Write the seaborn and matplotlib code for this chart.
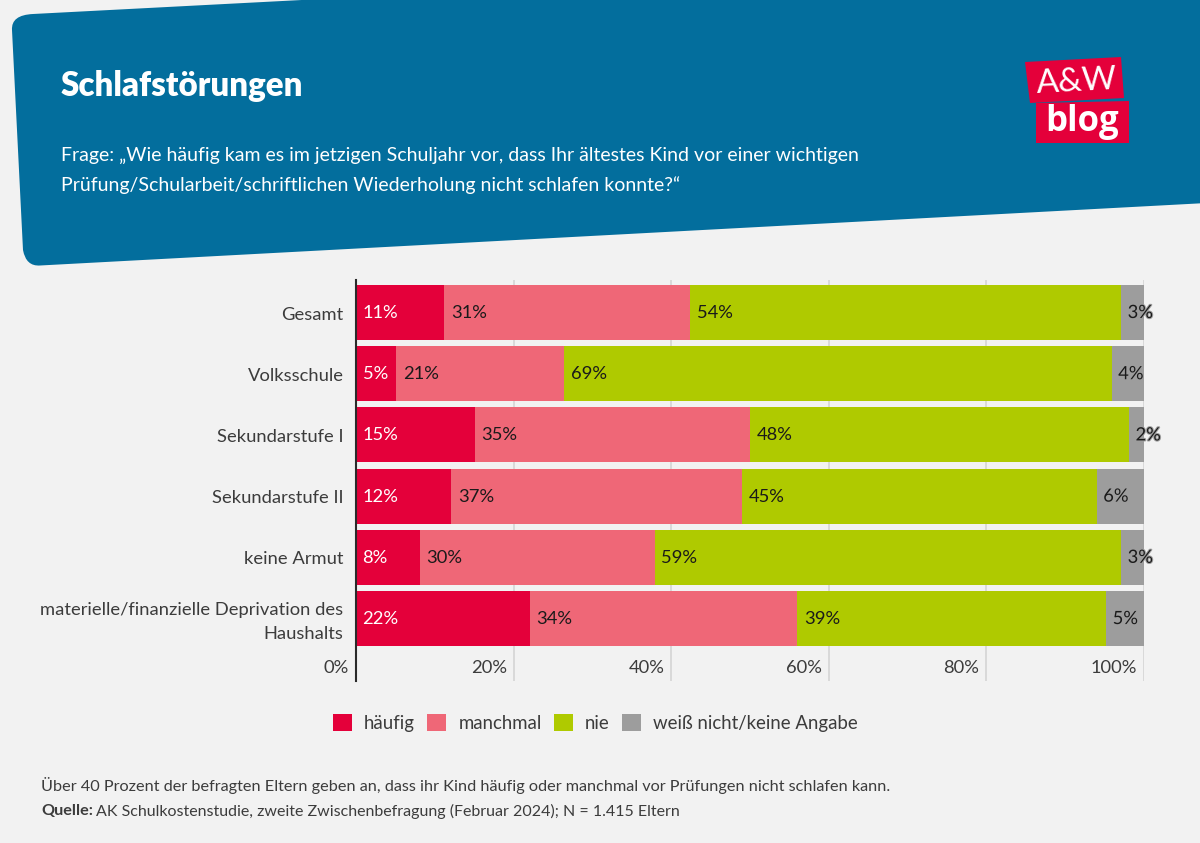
import matplotlib
matplotlib.use('Agg')
import matplotlib.pyplot as plt
import matplotlib.patheffects as pe
from matplotlib.patches import PathPatch, Polygon, Patch
from matplotlib.path import Path
from matplotlib.transforms import ScaledTranslation
import numpy as np
import seaborn as sns

categories = ['Gesamt', 'Volksschule', 'Sekundarstufe I', 'Sekundarstufe II', 'keine Armut',
              'materielle/finanzielle Deprivation des\nHaushalts']
haeufig = [11.2, 5.1, 15.1, 12.1, 8.1, 22.1]
manchmal = [31.2, 21.3, 34.9, 36.9, 29.8, 33.9]
nie = [54.7, 69.5, 48.1, 45.0, 59.2, 39.2]
keine_angabe = [2.9, 4.1, 1.9, 6.0, 2.9, 4.8]
haeufig_labels = ['11%', '5%', '15%', '12%', '8%', '22%']
manchmal_labels = ['31%', '21%', '35%', '37%', '30%', '34%']
nie_labels = ['54%', '69%', '48%', '45%', '59%', '39%']
keine_angabe_labels = ['3%', '4%', '2%', '6%', '3%', '5%']
series_names = ['häufig', 'manchmal', 'nie', 'weiß nicht/keine Angabe']
colors = ['#e4003a', '#ef6777', '#afca00', '#9d9d9d']
x_ticks = [0, 20, 40, 60, 80, 100]

BG = '#f2f2f2'
BLUE = '#036e9d'
TEXT = '#3c3c3c'
BODY = ['Lato', 'DejaVu Sans']

sns.set_theme(style='white')
plt.rcParams['font.family'] = BODY

W, H = 1200, 843
fig = plt.figure(figsize=(W / 100, H / 100), dpi=100, facecolor=BG)

# overlay in pixel coordinates for header, logo and footer
bg = fig.add_axes([0, 0, 1, 1], zorder=0)
bg.set_xlim(0, W)
bg.set_ylim(H, 0)
bg.axis('off')

verts = [(33, 14), (1300, -52), (1300, 198), (40, 265.5), (26, 266.5), (23, 250), (12, 30), (11, 15), (33, 14)]
codes = [Path.MOVETO, Path.LINETO, Path.LINETO, Path.LINETO, Path.CURVE3, Path.CURVE3,
         Path.LINETO, Path.CURVE3, Path.CURVE3]
bg.add_patch(PathPatch(Path(verts, codes), facecolor=BLUE, edgecolor='none'))

bg.text(61, 86, 'Schlafstörungen', color='white', fontsize=23.8, fontweight='heavy', va='center')
bg.text(61, 155, 'Frage: „Wie häufig kam es im jetzigen Schuljahr vor, dass Ihr ältestes Kind vor einer wichtigen',
        color='white', fontsize=14, va='center')
bg.text(61, 185, 'Prüfung/Schularbeit/schriftlichen Wiederholung nicht schlafen konnte?“',
        color='white', fontsize=14, va='center')

bg.add_patch(Polygon([(1025, 62), (1121, 57), (1124, 98), (1030, 103)], facecolor='#e4003a', edgecolor='none'))
bg.add_patch(Polygon([(1036, 103), (1129, 101), (1129, 143), (1036, 143)], facecolor='#e4003a', edgecolor='none'))
bg.text(1077, 82, 'A&W', color='white', fontsize=24, ha='center', va='center', rotation=3)
bg.text(1082, 122, 'blog', color='white', fontsize=25, fontweight='bold', family=['Open Sans', 'DejaVu Sans'],
        ha='center', va='center')

bg.text(41, 785, 'Über 40 Prozent der befragten Eltern geben an, dass ihr Kind häufig oder manchmal vor Prüfungen nicht schlafen kann.',
        color=TEXT, fontsize=11.7, va='center')
bg.text(41, 811, 'Quelle:', color=TEXT, fontsize=11.7, fontweight='bold', va='center')
bg.text(96, 811, 'AK Schulkostenstudie, zweite Zwischenbefragung (Februar 2024); N = 1.415 Eltern',
        color=TEXT, fontsize=11.5, va='center')

# chart axes: x 356-1144 px, y 280-681 px
ax = fig.add_axes([356 / W, 1 - 681 / H, 788 / W, 401 / H], zorder=1)
ax.patch.set_alpha(0)

series = [haeufig, manchmal, nie, keine_angabe]
cum = np.cumsum(series, axis=0)
# longest first, each shorter bar painted over the previous one
for i in range(3, -1, -1):
    sns.barplot(x=cum[i], y=categories, color=colors[i], width=0.9, saturation=1, ax=ax, zorder=3, orient='h',
                linewidth=0, edgecolor='none')

ax.set_xlim(0, 100)
ax.set_ylim(6.02, -0.531)
ax.set_xlabel('')
ax.set_ylabel('')

ax.set_xticks(x_ticks)
ax.set_xticklabels([f'{t}%' for t in x_ticks], ha='right', color=TEXT, fontsize=13.2)
ax.tick_params(axis='x', length=0, pad=-15)
ax.tick_params(axis='y', length=0, pad=9, labelcolor=TEXT, labelsize=13.2)
for lab in ax.get_xticklabels():
    lab.set_transform(lab.get_transform() + ScaledTranslation(-7 / 100, 0, fig.dpi_scale_trans))
for n, lab in enumerate(ax.get_yticklabels()):
    lab.set_linespacing(1.6)
    shift = 2 if n == 5 else -0.5
    lab.set_transform(lab.get_transform() + ScaledTranslation(0, shift / 100, fig.dpi_scale_trans))

ax.set_axisbelow(True)
ax.grid(axis='x', color='#d2d2d2', linewidth=1.1)
ax.grid(axis='y', visible=False)
sns.despine(ax=ax, top=True, right=True, bottom=True)
ax.spines['left'].set_color('#2b2b2b')
ax.spines['left'].set_linewidth(1.5)
ax.spines['left'].set_zorder(5)

all_labels = [haeufig_labels, manchmal_labels, nie_labels, keine_angabe_labels]
offset = ScaledTranslation(6.5 / 100, -0.5 / 100, fig.dpi_scale_trans)
for i, labels in enumerate(all_labels):
    starts = cum[i] - np.array(series[i])
    for row, lab in enumerate(labels):
        t = ax.text(starts[row], row, lab, color='white' if i == 0 else '#1a1a1a', fontsize=13.2,
                    va='center', ha='left', zorder=6, transform=ax.transData + offset, clip_on=False)
        if i == 3:
            t.set_path_effects([pe.withStroke(linewidth=1.5, foreground=colors[3])])

handles = [Patch(facecolor=c, edgecolor='none') for c in colors]
fig.legend(handles, series_names, loc='center left', bbox_to_anchor=(333 / W, 1 - 723 / H), ncol=4, frameon=False,
           fontsize=13.4, labelcolor=TEXT, handlelength=1.02, handleheight=1.02, handletextpad=0.65,
           columnspacing=0.65, borderpad=0, borderaxespad=0)

fig.savefig('out.png', dpi=100, facecolor=BG)
